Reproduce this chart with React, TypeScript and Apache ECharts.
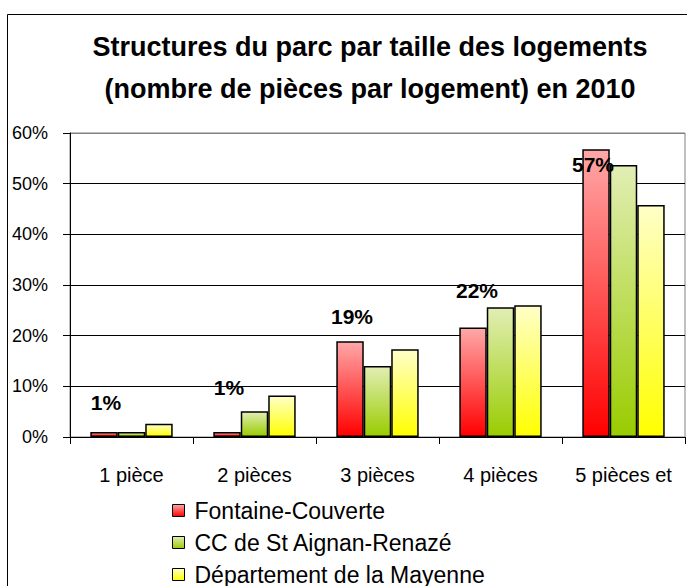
import React, { useEffect, useRef } from "react";
import * as echarts from "echarts";

const categories = ["1 pièce", "2 pièces", "3 pièces", "4 pièces", "5 pièces et"];
const seriesNames = ["Fontaine-Couverte", "CC de St Aignan-Renazé", "Département de la Mayenne"];
const fontaine = [1.0, 1.0, 18.9, 21.6, 56.8];
const ccStAignan = [1.0, 5.1, 14.0, 25.6, 53.7];
const mayenne = [2.6, 8.2, 17.3, 26.0, 45.8];
const fontaineLabels = ["1%", "1%", "19%", "22%", "57%"];
const labelOffsets = [[2, -14], [2, -29], [2, -9], [4, -22], [-3, 31]];
const yTicks = [0, 10, 20, 30, 40, 50, 60];

const FONT = "'Liberation Sans', Arial, sans-serif";

function grad(top: string, bottom: string) {
  return new echarts.graphic.LinearGradient(0, 0, 0, 1, [
    { offset: 0, color: top },
    { offset: 1, color: bottom },
  ]);
}

export default function App() {
  const ref = useRef<HTMLDivElement>(null);
  useEffect(() => {
    if (!ref.current) return;
    const chart = echarts.init(ref.current, undefined, { renderer: "svg" });
    const barBase = {
      type: "bar",
      barGap: "0%",
      barCategoryGap: "33%",
    };
    chart.setOption({
      animation: false,
      backgroundColor: "#ffffff",
      graphic: [
        {
          type: "rect",
          shape: { x: 7.5, y: 14.5, width: 720, height: 640 },
          style: { fill: "none", stroke: "#000", lineWidth: 1 },
          silent: true,
        },
        {
          type: "text",
          x: 370,
          y: 68,
          style: {
            text: "Structures du parc par taille des logements\n(nombre de pièces par logement) en 2010",
            font: `bold 27px ${FONT}`,
            fill: "#000",
            align: "center",
            verticalAlign: "middle",
            lineHeight: 42,
          },
        },
      ],
      grid: {
        left: 70,
        right: 2,
        top: 133,
        bottom: 149,
        show: true,
        borderColor: "#808080",
        borderWidth: 1,
        backgroundColor: "#fff",
      },
      legend: {
        orient: "vertical",
        left: 172,
        top: 499,
        icon: "rect",
        itemWidth: 12,
        itemHeight: 12,
        itemGap: 9,
        padding: 0,
        data: seriesNames,
        itemStyle: { borderColor: "#000", borderWidth: 1 },
        textStyle: {
          fontFamily: FONT,
          fontSize: 23,
          color: "#000",
          lineHeight: 23,
          padding: [0, 0, 0, 5],
        },
      },
      xAxis: {
        type: "category",
        data: categories,
        axisLine: { show: true, lineStyle: { color: "#000", width: 1 } },
        axisTick: { show: true, length: 7, lineStyle: { color: "#000" } },
        axisLabel: {
          interval: 0,
          fontFamily: FONT,
          fontSize: 20,
          color: "#000",
          margin: 28,
        },
      },
      yAxis: {
        type: "value",
        min: yTicks[0],
        max: yTicks[yTicks.length - 1],
        interval: 10,
        axisLine: { show: true, lineStyle: { color: "#000", width: 1 } },
        axisTick: { show: true, length: 7, lineStyle: { color: "#000" } },
        axisLabel: {
          fontFamily: FONT,
          fontSize: 18,
          color: "#000",
          margin: 22,
          formatter: "{value}%",
        },
        splitLine: {
          show: true,
          lineStyle: {
            color: ["#000", "#000", "#000", "#000", "#000", "#000", "#808080"],
            width: 1,
          },
        },
      },
      series: [
        {
          ...barBase,
          name: seriesNames[0],
          itemStyle: { color: grad("#ffa8a8", "#ff0000"), borderColor: "#000", borderWidth: 1.5 },
          data: fontaine.map((v, i) => ({
            value: v,
            label: {
              show: true,
              position: "top",
              offset: labelOffsets[i],
              formatter: fontaineLabels[i],
              fontFamily: FONT,
              fontWeight: "bold",
              fontSize: 21,
              color: "#000",
            },
          })),
        },
        {
          ...barBase,
          name: seriesNames[1],
          itemStyle: { color: grad("#e2eeb4", "#99cc00"), borderColor: "#000", borderWidth: 1.5 },
          data: ccStAignan,
        },
        {
          ...barBase,
          name: seriesNames[2],
          itemStyle: { color: grad("#ffffc8", "#ffff00"), borderColor: "#000", borderWidth: 1.5 },
          data: mayenne,
        },
      ],
    });
    return () => chart.dispose();
  }, []);
  return (
    <div
      ref={ref}
      style={{ position: "absolute", left: 0, top: 0, width: 687, height: 586 }}
    />
  );
}
